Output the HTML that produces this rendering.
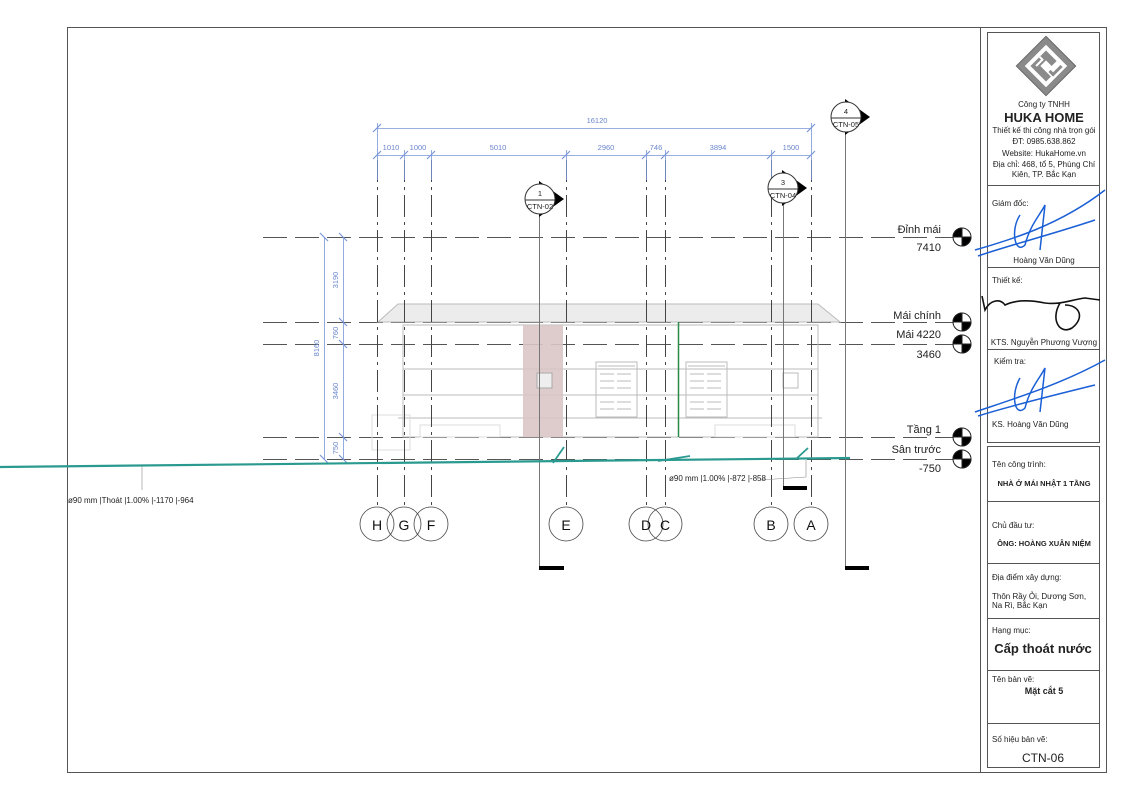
<!DOCTYPE html>
<html><head><meta charset="utf-8"><style>
html,body{margin:0;padding:0;background:#fff;}
svg{display:block;font-family:"Liberation Sans","Noto Sans CJK SC",sans-serif;}
</style></head><body>
<svg width="1139" height="800" viewBox="0 0 1139 800" xmlns="http://www.w3.org/2000/svg">
<rect x="0" y="0" width="1139" height="800" fill="#fff"/>
<rect x="67.5" y="27.5" width="1039" height="745" fill="none" stroke="#555" stroke-width="1"/>
<line x1="980.5" y1="27" x2="980.5" y2="772" stroke="#555"/>
<g fill="none" stroke="#555" stroke-width="1">
<rect x="987.5" y="32.5" width="112" height="410"/>
<line x1="987" y1="185.5" x2="1100" y2="185.5"/>
<line x1="987" y1="267.5" x2="1100" y2="267.5"/>
<line x1="987" y1="349.5" x2="1100" y2="349.5"/>
<rect x="987.5" y="446.5" width="112" height="321"/>
<line x1="987" y1="501.5" x2="1100" y2="501.5"/>
<line x1="987" y1="563.5" x2="1100" y2="563.5"/>
<line x1="987" y1="618.5" x2="1100" y2="618.5"/>
<line x1="987" y1="670.5" x2="1100" y2="670.5"/>
<line x1="987" y1="723.5" x2="1100" y2="723.5"/>
</g>
<g transform="translate(1046,66) rotate(45)">
<rect x="-21" y="-21" width="42" height="42" fill="#8a8a8a" stroke="#666"/>
<rect x="-15" y="-15" width="30" height="30" fill="#fff"/>
<path d="M-11,-11 H4 V-4 H-4 V4 H11 V11 H-11 Z" fill="#8a8a8a"/>
<path d="M-11,-2 H-7 V7" stroke="#fff" stroke-width="2" fill="none"/>
<path d="M11,-11 V1 H6" stroke="#8a8a8a" stroke-width="3" fill="none"/>
</g>
<g font-size="8" fill="#222" text-anchor="middle">
<text x="1044" y="107">Công ty TNHH</text>
<text x="1044" y="122" font-size="13" font-weight="bold">HUKA HOME</text>
<text x="1044" y="133">Thiết kế thi công nhà trọn gói</text>
<text x="1044" y="144">ĐT: 0985.638.862</text>
<text x="1044" y="156">Website: HukaHome.vn</text>
<text x="1044" y="167">Địa chỉ: 468, tổ 5, Phùng Chí</text>
<text x="1044" y="177">Kiên, TP. Bắc Kạn</text>
<text x="992" y="206" text-anchor="start">Giám đốc:</text>
<text x="1044" y="263">Hoàng Văn Dũng</text>
<text x="992" y="283" text-anchor="start">Thiết kế:</text>
<text x="1044" y="345">KTS. Nguyễn Phương Vượng</text>
<text x="994" y="364" text-anchor="start">Kiểm tra:</text>
<text x="992" y="427" text-anchor="start">KS. Hoàng Văn Dũng</text>
<text x="992" y="467" text-anchor="start">Tên công trình:</text>
<text x="1044" y="486" font-size="7.5" font-weight="bold">NHÀ Ở MÁI NHẬT 1 TẦNG</text>
<text x="992" y="528" text-anchor="start">Chủ đầu tư:</text>
<text x="1044" y="546" font-size="7.5" font-weight="bold">ÔNG: HOÀNG XUÂN NIỆM</text>
<text x="992" y="580" text-anchor="start">Địa điểm xây dựng:</text>
<text x="992" y="599" text-anchor="start">Thôn Rầy Ỏi, Dương Sơn,</text>
<text x="992" y="608" text-anchor="start">Na Rì, Bắc Kạn</text>
<text x="992" y="633" text-anchor="start">Hạng mục:</text>
<text x="1043" y="653" font-size="13" font-weight="bold">Cấp thoát nước</text>
<text x="992" y="682" text-anchor="start">Tên bản vẽ:</text>
<text x="1044" y="694" font-size="9" font-weight="bold">Mặt cắt 5</text>
<text x="992" y="742" text-anchor="start">Số hiệu bản vẽ:</text>
<text x="1043" y="762" font-size="12">CTN-06</text>
</g>
<g fill="none" stroke="#1a5fd6" stroke-width="1.5">
<path d="M975,250 C1010,240 1060,225 1105,190"/>
<path d="M978,256 C1010,245 1050,235 1095,220"/>
<path d="M1020,215 C1010,230 1015,255 1025,245 C1030,225 1040,215 1045,205 L1040,250"/>
<path d="M975,412 C1010,400 1060,385 1105,360"/>
<path d="M978,416 C1010,406 1050,396 1095,385"/>
<path d="M1020,378 C1010,395 1015,418 1025,408 C1030,388 1040,378 1045,368 L1040,412"/>
</g>
<path d="M982,296 L985,310 C990,300 1000,298 1005,305 C1015,300 1030,300 1045,303 C1060,305 1070,300 1085,298 L1100,300 M1060,303 C1050,320 1060,335 1072,328 C1085,318 1080,305 1065,305" fill="none" stroke="#111" stroke-width="1.6"/>

<g stroke="#555" stroke-width="1" stroke-dasharray="24,8" fill="none">
<line x1="263" y1="237.5" x2="955" y2="237.5"/>
<line x1="263" y1="322.5" x2="955" y2="322.5"/>
<line x1="263" y1="344.5" x2="955" y2="344.5"/>
<line x1="263" y1="437.5" x2="955" y2="437.5"/>
<line x1="263" y1="459.5" x2="955" y2="459.5"/>
</g>
<g fill="none" stroke="#bbb" stroke-width="1">
<path d="M378,322 L398,304 L818,304 L840,322 Z" fill="#ececec"/>
<rect x="403" y="325" width="415" height="112"/>
<line x1="403" y1="369" x2="818" y2="369"/>
<line x1="403" y1="395" x2="818" y2="395"/>
<line x1="398" y1="418" x2="822" y2="418"/>
<rect x="372" y="415" width="38" height="35" stroke="#ddd"/>
<rect x="596" y="362" width="41" height="55"/>
<rect x="686" y="362" width="41" height="55"/>
<rect x="537" y="373" width="15" height="15"/>
<rect x="783" y="373" width="15" height="15"/>
<rect x="420" y="425" width="80" height="12" stroke="#ddd"/>
<rect x="715" y="425" width="80" height="12" stroke="#ddd"/>
</g>
<rect x="523" y="325" width="40" height="112" fill="#d9c7c5" opacity="0.9"/>
<rect x="537" y="373" width="15" height="15" fill="#eee" stroke="#aaa"/>
<g stroke="#bbb" fill="none">
<path d="M600,374 h14 M617,374 h14 M600,381 h14 M617,381 h14 M600,388 h14 M617,388 h14 M600,395 h14 M617,395 h14 M600,402 h14 M617,402 h14 M600,409 h14 M617,409 h14 M598,366 h37"/>
<path d="M690,374 h14 M707,374 h14 M690,381 h14 M707,381 h14 M690,388 h14 M707,388 h14 M690,395 h14 M707,395 h14 M690,402 h14 M707,402 h14 M690,409 h14 M707,409 h14 M688,366 h37"/>
</g>
<g stroke="#444" stroke-width="1" stroke-dasharray="22,5,3,5" fill="none">
<line x1="377.5" y1="160" x2="377.5" y2="507"/>
<line x1="404.5" y1="160" x2="404.5" y2="507"/>
<line x1="431.5" y1="160" x2="431.5" y2="507"/>
<line x1="566.5" y1="160" x2="566.5" y2="507"/>
<line x1="646.5" y1="160" x2="646.5" y2="507"/>
<line x1="665.5" y1="160" x2="665.5" y2="507"/>
<line x1="771.5" y1="160" x2="771.5" y2="507"/>
<line x1="811.5" y1="160" x2="811.5" y2="507"/>
</g>
<g stroke="#777" stroke-width="1">
<line x1="539.5" y1="212" x2="539.5" y2="568"/>
<line x1="783.5" y1="200" x2="783.5" y2="488"/>
<line x1="845.5" y1="130" x2="845.5" y2="568"/>
</g>
<rect x="539" y="566" width="25" height="4" fill="#000"/>
<rect x="845" y="566" width="24" height="4" fill="#000"/>
<rect x="783" y="486" width="24" height="4" fill="#000"/>
<g stroke="#7a96d8" stroke-width="0.8" fill="none">
<line x1="377" y1="128.5" x2="811" y2="128.5"/>
<line x1="377" y1="155.5" x2="811" y2="155.5"/>
<line x1="377.5" y1="123" x2="377.5" y2="180"/>
<line x1="811.5" y1="123" x2="811.5" y2="180"/>
<line x1="404.5" y1="150" x2="404.5" y2="180"/>
<line x1="431.5" y1="150" x2="431.5" y2="180"/>
<line x1="566.5" y1="150" x2="566.5" y2="180"/>
<line x1="646.5" y1="150" x2="646.5" y2="180"/>
<line x1="665.5" y1="150" x2="665.5" y2="180"/>
<line x1="771.5" y1="150" x2="771.5" y2="180"/>
<path d="M373,132 l8,-8 M807,132 l8,-8 M373,159 l8,-8 M400,159 l8,-8 M427,159 l8,-8 M562,159 l8,-8 M642,159 l8,-8 M661,159 l8,-8 M767,159 l8,-8 M807,159 l8,-8" stroke-width="1.2"/>
<line x1="324.5" y1="237" x2="324.5" y2="459"/>
<line x1="343.5" y1="237" x2="343.5" y2="459"/>
<path d="M320,233 l8,8 M339,233 l8,8 M339,318 l8,8 M339,340 l8,8 M339,433 l8,8 M320,455 l8,8 M339,455 l8,8" stroke-width="1.2"/>
</g>
<g font-size="7.5" fill="#6a86cc" text-anchor="middle">
<text x="597" y="123">16120</text>
<text x="391" y="150">1010</text>
<text x="418" y="150">1000</text>
<text x="498" y="150">5010</text>
<text x="606" y="150">2960</text>
<text x="656" y="150">746</text>
<text x="718" y="150">3894</text>
<text x="791" y="150">1500</text>
<text transform="translate(319,348) rotate(-90)">8160</text>
<text transform="translate(338,280) rotate(-90)">3190</text>
<text transform="translate(338,333) rotate(-90)">760</text>
<text transform="translate(338,391) rotate(-90)">3460</text>
<text transform="translate(338,448) rotate(-90)">750</text>
</g>
<g stroke="#2a9a90" fill="none">
<path d="M0,467 L850,458" stroke-width="2.2"/>
<path d="M553,463 L564,447 M658,461 L690,456 M796,459 L808,448" stroke-width="1.8"/>
<line x1="678.5" y1="322" x2="678.5" y2="437" stroke="#2a8a4a" stroke-width="1.5"/>
</g>
<line x1="142" y1="466" x2="142" y2="490" stroke="#888" stroke-width="0.6"/>
<polyline points="760,480 806,477 806,460" fill="none" stroke="#888" stroke-width="0.6"/>
<text x="68" y="503" font-size="8" fill="#222">ø90 mm |Thoát |1.00% |-1170 |-964</text>
<text x="669" y="481" font-size="8" fill="#222">ø90 mm |1.00% |-872 |-858</text>
<g font-size="11" fill="#222" text-anchor="end">
<text x="941" y="233">Đỉnh mái</text>
<text x="941" y="251">7410</text>
<text x="941" y="319">Mái chính</text>
<text x="941" y="338">4220</text>
<text x="914" y="338">Mái</text>
<text x="941" y="358">3460</text>
<text x="941" y="433">Tầng 1</text>
<text x="941" y="453">Sân trước</text>
<text x="941" y="472">-750</text>
</g>
<g stroke="#222" stroke-width="1">
<g transform="translate(962,237)"><circle r="9" fill="#fff"/><path d="M0,0 L0,-9 A9,9 0 0 0 -9,0 Z M0,0 L0,9 A9,9 0 0 0 9,0 Z" fill="#000"/></g>
<g transform="translate(962,322)"><circle r="9" fill="#fff"/><path d="M0,0 L0,-9 A9,9 0 0 0 -9,0 Z M0,0 L0,9 A9,9 0 0 0 9,0 Z" fill="#000"/></g>
<g transform="translate(962,344)"><circle r="9" fill="#fff"/><path d="M0,0 L0,-9 A9,9 0 0 0 -9,0 Z M0,0 L0,9 A9,9 0 0 0 9,0 Z" fill="#000"/></g>
<g transform="translate(962,437)"><circle r="9" fill="#fff"/><path d="M0,0 L0,-9 A9,9 0 0 0 -9,0 Z M0,0 L0,9 A9,9 0 0 0 9,0 Z" fill="#000"/></g>
<g transform="translate(962,459)"><circle r="9" fill="#fff"/><path d="M0,0 L0,-9 A9,9 0 0 0 -9,0 Z M0,0 L0,9 A9,9 0 0 0 9,0 Z" fill="#000"/></g>
</g>
<g font-size="7.5" fill="#222" text-anchor="middle">
<g transform="translate(540,199)"><path d="M-1,-18 L24,0 L-1,18 Z" fill="#000"/><circle r="15" fill="#fff" stroke="#333"/><line x1="-15" y1="1" x2="15" y2="1" stroke="#333"/><text x="0" y="-3">1</text><text x="0" y="10">CTN-02</text></g>
<g transform="translate(783,188)"><path d="M-1,-18 L24,0 L-1,18 Z" fill="#000"/><circle r="15" fill="#fff" stroke="#333"/><line x1="-15" y1="1" x2="15" y2="1" stroke="#333"/><text x="0" y="-3">3</text><text x="0" y="10">CTN-04</text></g>
<g transform="translate(846,117)"><path d="M-1,-18 L24,0 L-1,18 Z" fill="#000"/><circle r="15" fill="#fff" stroke="#333"/><line x1="-15" y1="1" x2="15" y2="1" stroke="#333"/><text x="0" y="-3">4</text><text x="0" y="10">CTN-05</text></g>
</g>
<g fill="none" stroke="#444" stroke-width="0.8">
<circle cx="377" cy="524" r="17"/><circle cx="404" cy="524" r="17"/><circle cx="431" cy="524" r="17"/>
<circle cx="566" cy="524" r="17"/><circle cx="646" cy="524" r="17"/><circle cx="665" cy="524" r="17"/>
<circle cx="771" cy="524" r="17"/><circle cx="811" cy="524" r="17"/>
</g>
<g font-size="14" fill="#111" text-anchor="middle">
<text x="377" y="530">H</text><text x="404" y="530">G</text><text x="431" y="530">F</text>
<text x="566" y="530">E</text><text x="646" y="530">D</text><text x="665" y="530">C</text>
<text x="771" y="530">B</text><text x="811" y="530">A</text>
</g>
</svg>
</body></html>
